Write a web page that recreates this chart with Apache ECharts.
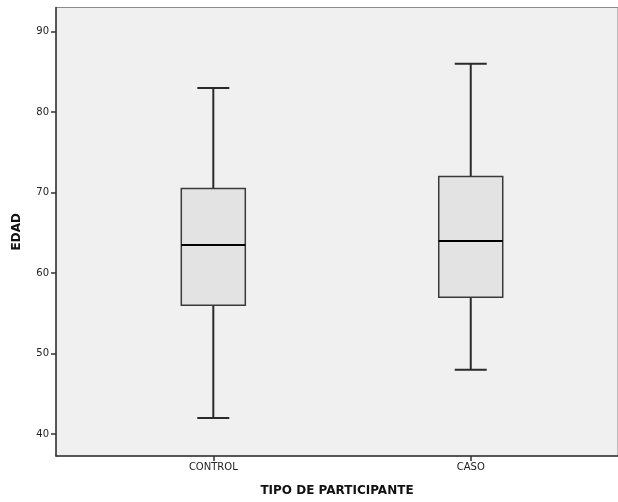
<!DOCTYPE html>
<html>
<head>
<meta charset="utf-8">
<script src="https://cdn.jsdelivr.net/npm/echarts@6/dist/echarts.min.js"></script>
<style>
  html, body { margin: 0; padding: 0; background: #ffffff; }
  #chart { width: 618px; height: 502px; }
</style>
</head>
<body>
<div id="chart"></div>
<script>
// Age distribution (EDAD) by participant type
const categories = ['CONTROL', 'CASO'];
const whiskerLow = [42, 48];
const quartile1 = [56, 57];
const medianAge = [63.5, 64];
const quartile3 = [70.5, 72];
const whiskerHigh = [83, 86];
const yTicks = [40, 50, 60, 70, 80, 90];

const boxData = categories.map((c, i) => [
  i + 1, whiskerLow[i], quartile1[i], medianAge[i], quartile3[i], whiskerHigh[i]
]);

const lineColor = '#2a2a2a';
const font = 'DejaVu Sans';

function renderBox(params, api) {
  const x = api.value(0);
  const pLow = api.coord([x, api.value(1)]);
  const pQ1 = api.coord([x, api.value(2)]);
  const pMed = api.coord([x, api.value(3)]);
  const pQ3 = api.coord([x, api.value(4)]);
  const pHigh = api.coord([x, api.value(5)]);
  const cx = pMed[0];
  const boxW = 64, capW = 32;
  const line = { stroke: lineColor, lineWidth: 2 };
  return {
    type: 'group',
    children: [
      { type: 'line', shape: { x1: cx, y1: pHigh[1], x2: cx, y2: pQ3[1] }, style: line },
      { type: 'line', shape: { x1: cx, y1: pQ1[1], x2: cx, y2: pLow[1] }, style: line },
      { type: 'line', shape: { x1: cx - capW / 2, y1: pHigh[1], x2: cx + capW / 2, y2: pHigh[1] }, style: line },
      { type: 'line', shape: { x1: cx - capW / 2, y1: pLow[1], x2: cx + capW / 2, y2: pLow[1] }, style: line },
      { type: 'rect', shape: { x: cx - boxW / 2, y: pQ3[1], width: boxW, height: pQ1[1] - pQ3[1] },
        style: { fill: '#e3e3e3', stroke: '#3a3a3a', lineWidth: 1.5 } },
      { type: 'line', shape: { x1: cx - boxW / 2, y1: pMed[1], x2: cx + boxW / 2, y2: pMed[1] },
        style: { stroke: '#000000', lineWidth: 2 } }
    ]
  };
}

const chart = echarts.init(document.getElementById('chart'), null, { renderer: 'canvas' });
chart.setOption({
  animation: false,
  backgroundColor: '#ffffff',
  grid: {
    left: 56, right: 0, top: 7.5, bottom: 46,
    show: true, backgroundColor: '#f0f0f0', borderColor: '#8a8a8a', borderWidth: 1
  },
  xAxis: {
    type: 'value',
    min: 0.389, max: 2.572,
    name: 'TIPO DE PARTICIPANTE',
    nameLocation: 'middle',
    nameGap: 29,
    nameTextStyle: { fontFamily: font, fontSize: 12, fontWeight: 'bold', color: '#111' },
    axisLine: { show: true, lineStyle: { color: '#333', width: 1.5 } },
    axisTick: { show: true, length: 5, customValues: [1, 2], lineStyle: { color: '#333', width: 1.5 } },
    axisLabel: {
      customValues: [1, 2],
      formatter: v => categories[Math.round(v) - 1] || '',
      fontFamily: font, fontSize: 10, color: '#222', margin: 6
    },
    splitLine: { show: false }
  },
  yAxis: {
    type: 'value',
    min: 37.27, max: 93.0,
    name: 'EDAD',
    nameLocation: 'middle',
    nameGap: 33,
    nameRotate: 90,
    nameTextStyle: { fontFamily: font, fontSize: 12, fontWeight: 'bold', color: '#111' },
    axisLine: { show: true, lineStyle: { color: '#333', width: 1.5 } },
    axisTick: { show: true, length: 5, customValues: yTicks, lineStyle: { color: '#333', width: 1.5 } },
    axisLabel: {
      customValues: yTicks,
      fontFamily: font, fontSize: 10, color: '#222', margin: 7
    },
    splitLine: { show: false }
  },
  series: [{
    type: 'custom',
    renderItem: renderBox,
    data: boxData,
    encode: { x: 0, y: [1, 2, 3, 4, 5] },
    clip: false
  }]
});
</script>
</body>
</html>
